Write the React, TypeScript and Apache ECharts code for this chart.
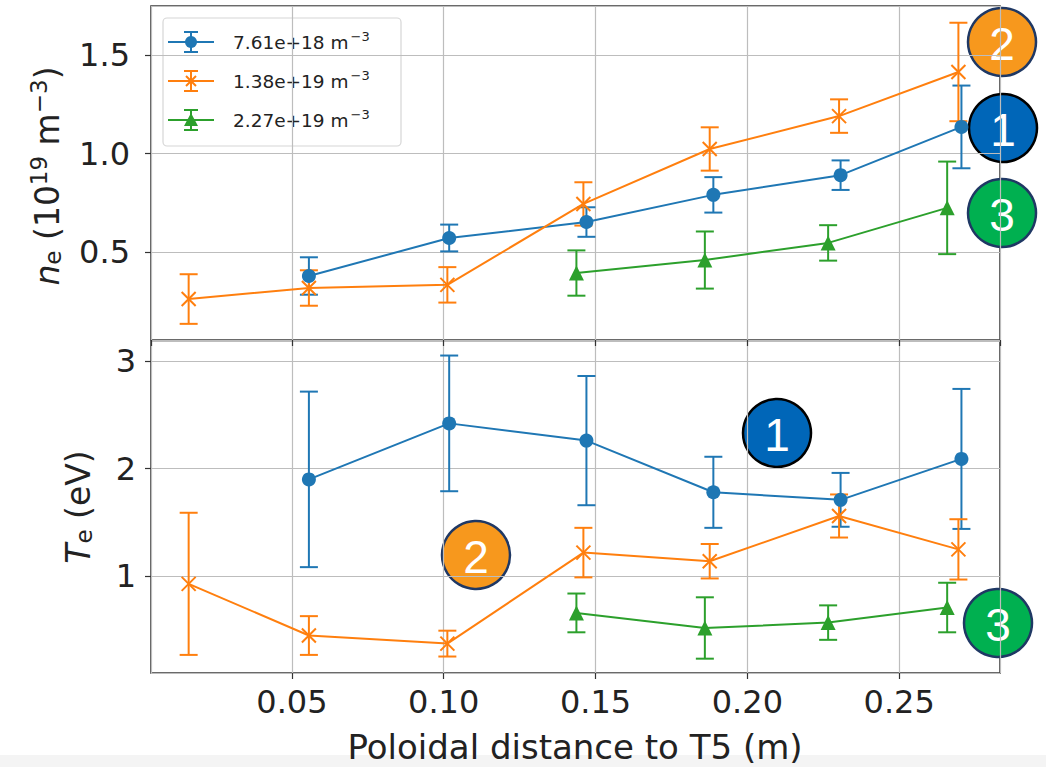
import React, { useEffect, useRef } from "react";
import * as echarts from "echarts";

// x positions (m)
const blueX = [0.0556, 0.1018, 0.147, 0.1888, 0.2307, 0.2705];
const orangeX = [0.016, 0.0556, 0.1012, 0.146, 0.1876, 0.2302, 0.2695];
const greenX = [0.1437, 0.186, 0.2266, 0.2658];

// n_e (1e19 m^-3)
const blueNe = [0.378, 0.571, 0.652, 0.79, 0.89, 1.135];
const blueNeErr = [0.095, 0.068, 0.075, 0.09, 0.075, 0.21];
const orangeNe = [0.261, 0.317, 0.333, 0.744, 1.023, 1.19, 1.414];
const orangeNeErr = [0.126, 0.09, 0.09, 0.11, 0.11, 0.085, 0.25];
const greenNe = [0.393, 0.459, 0.546, 0.724];
const greenNeErr = [0.115, 0.145, 0.09, 0.235];

// T_e (eV)
const blueTe = [1.9, 2.42, 2.26, 1.78, 1.71, 2.09];
const blueTeErr = [0.815, 0.63, 0.6, 0.33, 0.25, 0.65];
const orangeTe = [0.93, 0.45, 0.375, 1.22, 1.14, 1.56, 1.25];
const orangeTeErr = [0.66, 0.18, 0.12, 0.23, 0.16, 0.2, 0.28];
const greenTe = [0.66, 0.52, 0.57, 0.71];
const greenTeErr = [0.18, 0.285, 0.16, 0.23];

const legendLabels = ["7.61e+18 m", "1.38e+19 m", "2.27e+19 m"];
const xTitle = "Poloidal distance to T5 (m)";

const COLORS = ["#1f77b4", "#ff7f0e", "#2ca02c"];
const FONT = "DejaVu Sans";
const X_SYMBOL = "path://M0,0L10,10M10,0L0,10";
const SYMBOLS = ["circle", X_SYMBOL, "triangle"];
const SYMBOL_SIZES = [14, 14, 15];

function pairs(xs: number[], ys: number[]) {
  return xs.map((x, i) => [x, ys[i]]);
}
function errs(xs: number[], ys: number[], es: number[]) {
  return xs.map((x, i) => [x, ys[i] - es[i], ys[i] + es[i]]);
}

function errorSeries(data: number[][], color: string, axis: number) {
  return {
    type: "custom",
    xAxisIndex: axis,
    yAxisIndex: axis,
    data,
    encode: { x: 0, y: [1, 2] },
    z: 3,
    renderItem: (params: any, api: any) => {
      const lo = api.coord([api.value(0), api.value(1)]);
      const hi = api.coord([api.value(0), api.value(2)]);
      const cw = 9;
      const st = { stroke: color, lineWidth: 2 };
      return {
        type: "group",
        children: [
          { type: "line", shape: { x1: lo[0], y1: lo[1], x2: hi[0], y2: hi[1] }, style: st },
          { type: "line", shape: { x1: lo[0] - cw, y1: lo[1], x2: lo[0] + cw, y2: lo[1] }, style: st },
          { type: "line", shape: { x1: hi[0] - cw, y1: hi[1], x2: hi[0] + cw, y2: hi[1] }, style: st },
        ],
      };
    },
  };
}

function lineSeries(data: number[][], idx: number, axis: number) {
  const c = COLORS[idx];
  return {
    type: "line",
    xAxisIndex: axis,
    yAxisIndex: axis,
    data,
    symbol: SYMBOLS[idx],
    symbolSize: SYMBOL_SIZES[idx],
    showAllSymbol: true,
    z: 4,
    lineStyle: { color: c, width: 2 },
    itemStyle: idx === 1
      ? { color: "none", borderColor: c, borderWidth: 2 }
      : { color: c, borderWidth: 0 },
  };
}

const fmt2 = (v: number) => {
  const k = v / 0.05;
  return Math.abs(k - Math.round(k)) < 1e-6 ? v.toFixed(2) : "";
};

function makeXAxis(grid: number, labels: boolean) {
  return {
    type: "value",
    gridIndex: grid,
    min: 0.0036,
    max: 0.2832,
    minInterval: 0.05,
    maxInterval: 0.05,
    axisLine: { show: false },
    axisTick: { show: true, inside: false, length: 6, lineStyle: { color: "#333", width: 1.2 } },
    axisLabel: {
      show: labels,
      formatter: fmt2,
      showMinLabel: false,
      showMaxLabel: false,
      fontFamily: FONT,
      fontSize: 32,
      color: "#222",
      margin: 13,
    },
    splitLine: { show: true, lineStyle: { color: "#bdbdbd", width: 1.2 } },
  };
}

function makeYAxis(grid: number, min: number, max: number, step: number, dec: number, margin: number) {
  return {
    type: "value",
    gridIndex: grid,
    min,
    max,
    minInterval: step,
    maxInterval: step,
    axisLine: { show: false },
    axisTick: { show: true, inside: false, length: 6, lineStyle: { color: "#333", width: 1.2 } },
    axisLabel: {
      formatter: (v: number) => {
        const k = v / step;
        return Math.abs(k - Math.round(k)) < 1e-6 ? v.toFixed(dec) : "";
      },
      showMinLabel: false,
      showMaxLabel: false,
      fontFamily: FONT,
      fontSize: 32,
      color: "#222",
      margin,
    },
    splitLine: { show: true, lineStyle: { color: "#bdbdbd", width: 1.2 } },
  };
}

function badge(cx: number, cy: number, fill: string, border: string, label: string) {
  return {
    type: "group",
    z: 100,
    children: [
      { type: "circle", shape: { cx, cy, r: 34 }, style: { fill, stroke: border, lineWidth: 2.5 } },
      {
        type: "text",
        x: cx,
        y: cy + 2,
        style: {
          text: label,
          fill: "#fff",
          font: `46px "Liberation Sans", Arial, sans-serif`,
          align: "center",
          verticalAlign: "middle",
        },
      },
    ],
  };
}

function legendGraphic() {
  const rows = [42, 81, 120];
  const children: any[] = [
    {
      type: "rect",
      shape: { x: 163, y: 18, width: 238, height: 128, r: 4 },
      style: { fill: "rgba(255,255,255,0.85)", stroke: "#d6d6d6", lineWidth: 1.2 },
    },
  ];
  rows.forEach((y, i) => {
    const c = COLORS[i];
    const st = { stroke: c, lineWidth: 2 };
    children.push({ type: "line", shape: { x1: 168, y1: y, x2: 214, y2: y }, style: st });
    children.push({ type: "line", shape: { x1: 191, y1: y - 10, x2: 191, y2: y + 10 }, style: st });
    children.push({ type: "line", shape: { x1: 184, y1: y - 10, x2: 198, y2: y - 10 }, style: st });
    children.push({ type: "line", shape: { x1: 184, y1: y + 10, x2: 198, y2: y + 10 }, style: st });
    if (i === 0) {
      children.push({ type: "circle", shape: { cx: 191, cy: y, r: 6 }, style: { fill: c } });
    } else if (i === 1) {
      children.push({ type: "line", shape: { x1: 186, y1: y - 5, x2: 196, y2: y + 5 }, style: st });
      children.push({ type: "line", shape: { x1: 196, y1: y - 5, x2: 186, y2: y + 5 }, style: st });
    } else {
      children.push({
        type: "polygon",
        shape: { points: [[191, y - 7], [198, y + 6], [184, y + 6]] },
        style: { fill: c },
      });
    }
    children.push({
      type: "text",
      x: 233,
      y,
      style: {
        text: `{a|${legendLabels[i]}}{s|−3}`,
        verticalAlign: "middle",
        rich: {
          a: { fontFamily: FONT, fontSize: 18.5, fill: "#222", lineHeight: 24 },
          s: { fontFamily: FONT, fontSize: 13, fill: "#222", verticalAlign: "top", lineHeight: 24, padding: [0, 0, 10, 2] },
        },
      },
    });
  });
  return { type: "group", z: 50, children };
}

export default function App() {
  const ref = useRef<HTMLDivElement>(null);
  useEffect(() => {
    if (!ref.current) return;
    const chart = echarts.init(ref.current, undefined, { renderer: "svg" });
    const option: any = {
      animation: false,
      backgroundColor: "#ffffff",
      grid: [
        { left: 151, top: 6, width: 849, height: 334, show: true, borderColor: "#3a3a3a", borderWidth: 1.6, backgroundColor: "transparent" },
        { left: 151, top: 341, width: 849, height: 332, show: true, borderColor: "#3a3a3a", borderWidth: 1.6, backgroundColor: "transparent" },
      ],
      xAxis: [makeXAxis(0, false), makeXAxis(1, true)],
      yAxis: [makeYAxis(0, 0.053, 1.749, 0.5, 1, 21), makeYAxis(1, 0.102, 3.185, 1, 0, 15)],
      series: [
        lineSeries(pairs(blueX, blueNe), 0, 0),
        errorSeries(errs(blueX, blueNe, blueNeErr), COLORS[0], 0),
        lineSeries(pairs(orangeX, orangeNe), 1, 0),
        errorSeries(errs(orangeX, orangeNe, orangeNeErr), COLORS[1], 0),
        lineSeries(pairs(greenX, greenNe), 2, 0),
        errorSeries(errs(greenX, greenNe, greenNeErr), COLORS[2], 0),
        lineSeries(pairs(blueX, blueTe), 0, 1),
        errorSeries(errs(blueX, blueTe, blueTeErr), COLORS[0], 1),
        lineSeries(pairs(orangeX, orangeTe), 1, 1),
        errorSeries(errs(orangeX, orangeTe, orangeTeErr), COLORS[1], 1),
        lineSeries(pairs(greenX, greenTe), 2, 1),
        errorSeries(errs(greenX, greenTe, greenTeErr), COLORS[2], 1),
      ],
      graphic: [
        { type: "rect", z: -10, shape: { x: 0, y: 755, width: 1046, height: 12 }, style: { fill: "#f4f4f4" } },
        legendGraphic(),
        {
          type: "text",
          x: 47,
          y: 176,
          rotation: Math.PI / 2,
          style: {
            text: "{i|n}{sub|e}{a| (10}{sup|19}{a| m}{sup|−3}{a|)}",
            align: "center",
            verticalAlign: "middle",
            rich: {
              i: { fontFamily: FONT, fontStyle: "italic", fontSize: 33, fill: "#222", lineHeight: 40 },
              a: { fontFamily: FONT, fontSize: 33, fill: "#222", lineHeight: 40 },
              sub: { fontFamily: FONT, fontSize: 23, fill: "#222", lineHeight: 40, padding: [12, 0, 0, 0] },
              sup: { fontFamily: FONT, fontSize: 23, fill: "#222", lineHeight: 40, padding: [0, 0, 16, 0] },
            },
          },
        },
        {
          type: "text",
          x: 78,
          y: 507,
          rotation: Math.PI / 2,
          style: {
            text: "{i|T}{sub|e}{a| (eV)}",
            align: "center",
            verticalAlign: "middle",
            rich: {
              i: { fontFamily: FONT, fontStyle: "italic", fontSize: 33, fill: "#222", lineHeight: 40 },
              a: { fontFamily: FONT, fontSize: 33, fill: "#222", lineHeight: 40 },
              sub: { fontFamily: FONT, fontSize: 23, fill: "#222", lineHeight: 40, padding: [12, 0, 0, 0] },
            },
          },
        },
        {
          type: "text",
          x: 575,
          y: 747,
          style: {
            text: xTitle,
            fontFamily: FONT,
            fontSize: 34,
            fill: "#222",
            align: "center",
            verticalAlign: "middle",
          },
        },
        badge(1002, 42, "#F7981D", "#1F3864", "2"),
        badge(1003, 128, "#0066B8", "#000000", "1"),
        badge(1002, 213, "#00B050", "#1F3864", "3"),
        badge(777, 433, "#0066B8", "#000000", "1"),
        badge(476, 555, "#F7981D", "#1F3864", "2"),
        badge(998, 623, "#00B050", "#1F3864", "3"),
      ],
    };
    chart.setOption(option);
    return () => chart.dispose();
  }, []);
  return (
    <div
      ref={ref}
      style={{ position: "fixed", left: 0, top: 0, width: 1046, height: 767 }}
    />
  );
}
